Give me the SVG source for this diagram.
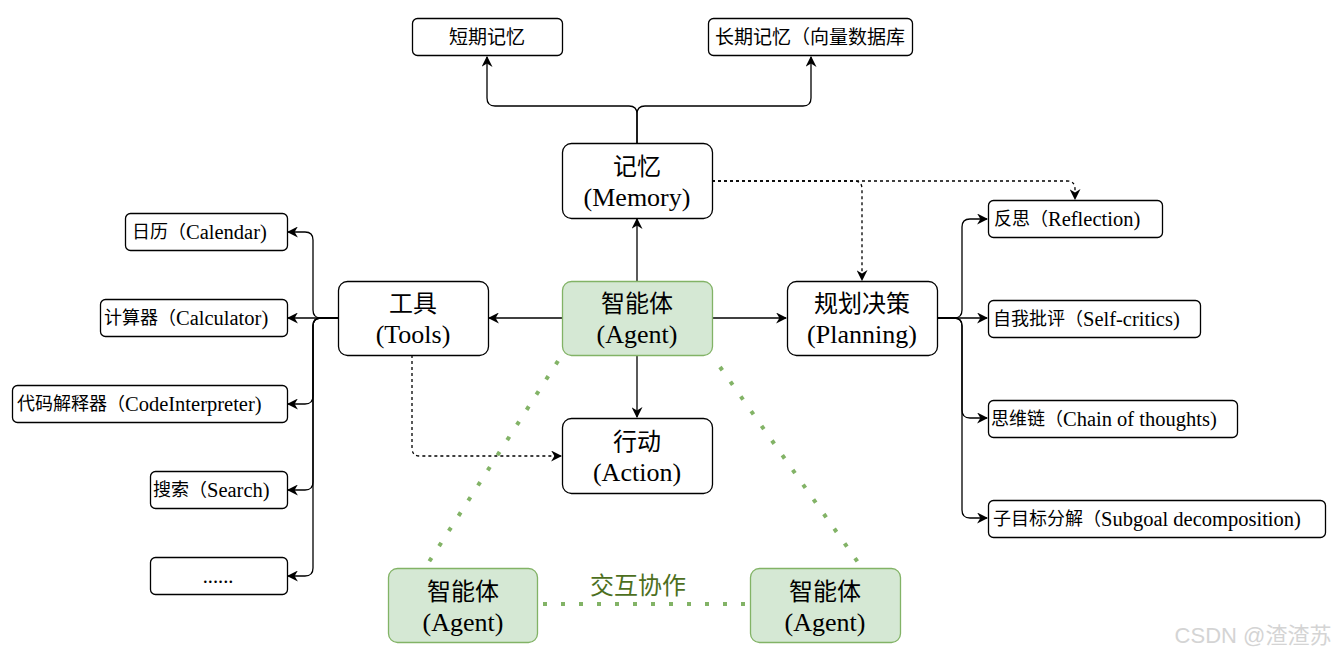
<svg xmlns="http://www.w3.org/2000/svg" width="1343" height="657" viewBox="0 0 1343 657">
<style>
.box{fill:#fff;stroke:#000;stroke-width:1.3}
.green{fill:#d5e8d4;stroke:#82b366;stroke-width:1.3}
.t{font-family:"Liberation Serif","Noto Sans CJK SC",serif;fill:#000}
.big{font-size:24px;text-anchor:middle;dominant-baseline:central}
.lat{font-size:26px;text-anchor:middle;dominant-baseline:central}
.sm{font-size:20.5px;dominant-baseline:central}
.cj{font-size:18px}
.mem{font-size:19px;dominant-baseline:central}
.c{text-anchor:middle}
.ln{fill:none;stroke:#000;stroke-width:1.3}
.dash{stroke-dasharray:3 3}
.dot{fill:none;stroke:#82b366;stroke-width:4;stroke-dasharray:4 14}
</style>
<defs>
<marker id="arr" viewBox="0 0 10 10" refX="9" refY="5" markerWidth="11" markerHeight="11" markerUnits="userSpaceOnUse" orient="auto">
<path d="M0,0 L10,5 L0,10 L3,5 z" fill="#000"/>
</marker>
</defs>
<rect width="1343" height="657" fill="#fff"/>

<g id="connectors">
<path class="ln" d="M637,143 V114 Q637,106 629,106 H495 Q487,106 487,98 V57" marker-end="url(#arr)"/>
<path class="ln" d="M637,143 V114 Q637,106 645,106 H803 Q811,106 811,98 V57" marker-end="url(#arr)"/>
<path class="ln" d="M637,281 V219" marker-end="url(#arr)"/>
<path class="ln" d="M637,355 V417" marker-end="url(#arr)"/>
<path class="ln" d="M562,318 H489" marker-end="url(#arr)"/>
<path class="ln" d="M712,318 H786" marker-end="url(#arr)"/>
<path class="ln" d="M338,318 H321 Q313,318 313,310 V240 Q313,232 305,232 H288" marker-end="url(#arr)"/>
<path class="ln" d="M338,318 H288" marker-end="url(#arr)"/>
<path class="ln" d="M338,318 H321 Q313,318 313,326 V396 Q313,404 305,404 H288" marker-end="url(#arr)"/>
<path class="ln" d="M338,318 H321 Q313,318 313,326 V482 Q313,490 305,490 H288" marker-end="url(#arr)"/>
<path class="ln" d="M338,318 H321 Q313,318 313,326 V568 Q313,576 305,576 H288" marker-end="url(#arr)"/>
<path class="ln" d="M937,318 H954 Q962,318 962,310 V227 Q962,219 970,219 H987" marker-end="url(#arr)"/>
<path class="ln" d="M937,318 H987" marker-end="url(#arr)"/>
<path class="ln" d="M937,318 H954 Q962,318 962,326 V410 Q962,418 970,418 H987" marker-end="url(#arr)"/>
<path class="ln" d="M937,318 H954 Q962,318 962,326 V510 Q962,518 970,518 H987" marker-end="url(#arr)"/>
<path class="ln dash" d="M712,181 H854 Q862,181 862,189 V280" marker-end="url(#arr)"/>
<path class="ln dash" d="M712,181 H1067 Q1075,181 1075,189 V199" marker-end="url(#arr)"/>
<path class="ln dash" d="M412,355 V448 Q412,456 420,456 H561" marker-end="url(#arr)"/>
<path class="dot" d="M558,361 L425,568"/>
<path class="dot" d="M720,367 L862,568"/>
<path class="dot" d="M543,604 H750"/>
</g>

<g id="short-memory"><rect class="box" x="412.5" y="18.5" width="150" height="37" rx="5"/><text class="t mem c" x="487" y="37">短期记忆</text></g>
<g id="long-memory"><rect class="box" x="708.5" y="18.5" width="204" height="37" rx="5"/><text class="t mem" x="715" y="37">长期记忆（向量数据库</text></g>
<g id="memory"><rect class="box" x="562.5" y="143.5" width="150" height="75" rx="9"/><text class="t big" x="637" y="167">记忆</text><text class="t lat" x="637" y="197">(Memory)</text></g>
<g id="tools"><rect class="box" x="338.5" y="281.5" width="150" height="74" rx="9"/><text class="t big" x="413" y="304">工具</text><text class="t lat" x="413" y="334">(Tools)</text></g>
<g id="agent"><rect class="green" x="562.5" y="281.5" width="150" height="74" rx="9"/><text class="t big" x="637" y="304">智能体</text><text class="t lat" x="637" y="334">(Agent)</text></g>
<g id="planning"><rect class="box" x="787.5" y="281.5" width="150" height="74" rx="9"/><text class="t big" x="862" y="304">规划决策</text><text class="t lat" x="862" y="334">(Planning)</text></g>
<g id="action"><rect class="box" x="562.5" y="418.5" width="150" height="75" rx="9"/><text class="t big" x="637" y="442">行动</text><text class="t lat" x="637" y="472">(Action)</text></g>

<g id="calendar"><rect class="box" x="125.5" y="213.5" width="162" height="37" rx="5"/><text class="t sm" x="132" y="232"><tspan class="cj">日历（</tspan>Calendar)</text></g>
<g id="calculator"><rect class="box" x="100.5" y="299.5" width="187" height="37" rx="5"/><text class="t sm" x="104" y="318"><tspan class="cj">计算器（</tspan>Calculator)</text></g>
<g id="code"><rect class="box" x="12.5" y="385.5" width="275" height="37" rx="5"/><text class="t sm" x="17" y="404"><tspan class="cj">代码解释器（</tspan>CodeInterpreter)</text></g>
<g id="search"><rect class="box" x="150.5" y="471.5" width="137" height="37" rx="5"/><text class="t sm" x="153" y="490"><tspan class="cj">搜索（</tspan>Search)</text></g>
<g id="more"><rect class="box" x="150.5" y="557.5" width="137" height="37" rx="5"/><text class="t sm c" x="218" y="576">......</text></g>

<g id="reflection"><rect class="box" x="988.5" y="200.5" width="174" height="37" rx="5"/><text class="t sm" x="994" y="219"><tspan class="cj">反思（</tspan>Reflection)</text></g>
<g id="selfcritics"><rect class="box" x="988.5" y="300.5" width="212" height="37" rx="5"/><text class="t sm" x="993" y="319"><tspan class="cj">自我批评（</tspan>Self-critics)</text></g>
<g id="cot"><rect class="box" x="988.5" y="400.5" width="249" height="37" rx="5"/><text class="t sm" x="991" y="419"><tspan class="cj">思维链（</tspan>Chain of thoughts)</text></g>
<g id="subgoal"><rect class="box" x="988.5" y="500.5" width="337" height="37" rx="5"/><text class="t sm" x="993" y="519"><tspan class="cj">子目标分解（</tspan>Subgoal decomposition)</text></g>

<g id="agent2"><rect class="green" x="388.5" y="568.5" width="149" height="74" rx="9"/><text class="t big" x="463" y="592">智能体</text><text class="t lat" x="463" y="622">(Agent)</text></g>
<g id="agent3"><rect class="green" x="750.5" y="568.5" width="150" height="74" rx="9"/><text class="t big" x="825" y="592">智能体</text><text class="t lat" x="825" y="622">(Agent)</text></g>
<text class="t big" x="638" y="583" style="fill:#4d6f1e;font-family:'Noto Sans CJK SC',sans-serif;font-size:24px">交互协作</text>
<text x="1253" y="635" style="font-family:'Liberation Sans','Noto Sans CJK SC',sans-serif;font-size:22px;fill:#d4d4d4;text-anchor:middle;dominant-baseline:central">CSDN @渣渣苏</text>
</svg>
